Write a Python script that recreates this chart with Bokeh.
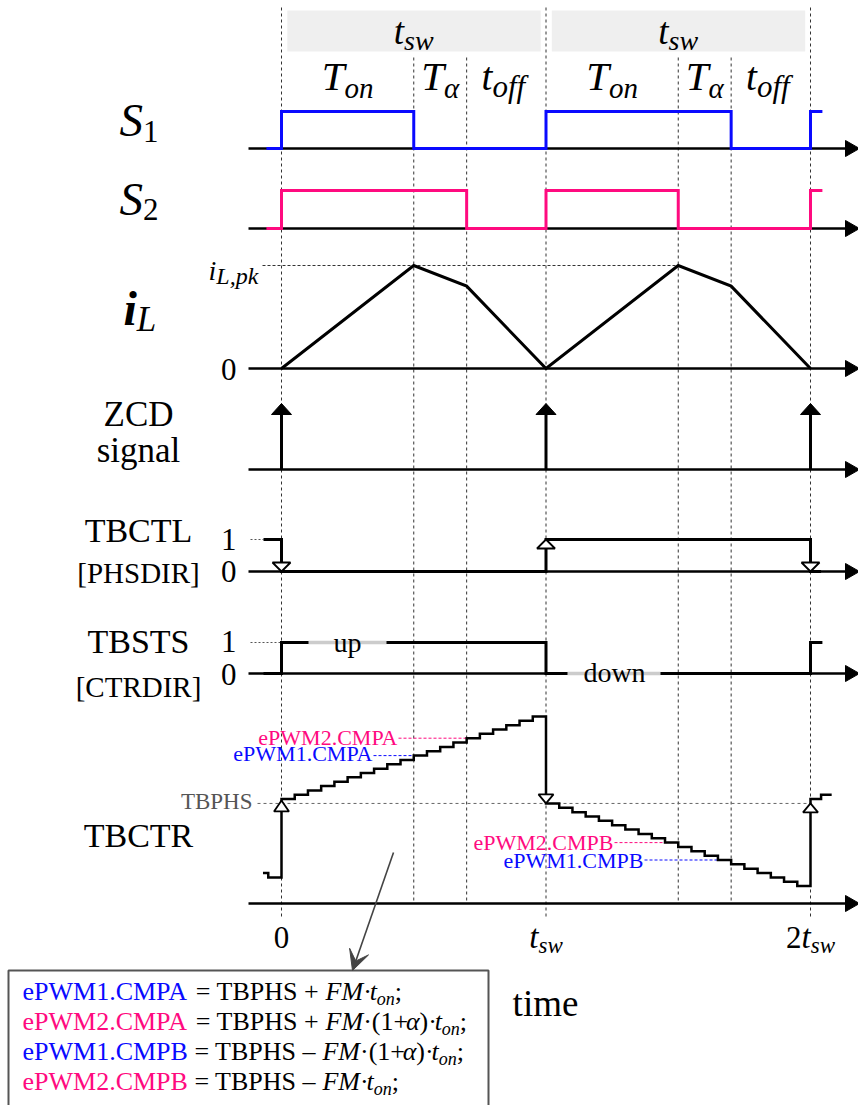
from bokeh.plotting import figure
from bokeh.models import Range1d, Arrow, VeeHead
from bokeh.core.properties import value
from bokeh.embed import file_html
from bokeh.resources import INLINE

# ---------------- data (time in units of t_sw) ----------------
period_starts = [0.0, 1.0, 2.0]            # 0, t_sw, 2 t_sw
phase_edges = [0.5, 0.7, 1.5, 1.7]         # end of T_on, end of T_alpha
on_mid = [0.25, 1.25]
alpha_mid = [0.6, 1.6]
off_mid = [0.85, 1.85]

s1_t = [-0.057, 0.0, 0.5, 1.0, 1.7, 2.0, 2.045]
s1_v = [0, 1, 0, 1, 0, 1, 1]
s2_t = [-0.057, 0.0, 0.7, 1.0, 1.5, 2.0, 2.045]
s2_v = [0, 1, 0, 1, 0, 1, 1]

il_t = [0.0, 0.5, 0.7, 1.0, 1.5, 1.7, 2.0]
il_v = [0.0, 1.0, 0.8, 0.0, 1.0, 0.8, 0.0]   # normalised to i_L,pk

zcd_t = [0.0, 1.0, 2.0]

phsdir_t = [-0.068, 0.0, 1.0, 2.0, 2.04]
phsdir_v = [1, 0, 1, 0, 0]
ctrdir_t = [-0.068, 0.0, 1.0, 2.0, 2.045]
ctrdir_v = [0, 1, 0, 1, 1]

tbctr_t = [-0.07, -0.05,
           0.00, 0.05, 0.10, 0.15, 0.20, 0.25, 0.30, 0.35, 0.40, 0.45,
           0.50, 0.55, 0.60, 0.65, 0.70, 0.75, 0.80, 0.85, 0.90, 0.95,
           1.00, 1.05, 1.10, 1.15, 1.20, 1.25, 1.30, 1.35, 1.40, 1.45,
           1.50, 1.55, 1.60, 1.65, 1.70, 1.75, 1.80, 1.85, 1.90, 1.95,
           2.00, 2.04, 2.08]
tbctr_v = [7, 6,
           24, 25, 26, 27, 28, 29, 30, 31, 32, 33,
           34, 35, 36, 37, 38, 39, 40, 41, 42, 43,
           23, 22, 21, 20, 19, 18, 17, 16, 15, 14,
           13, 12, 11, 10, 9, 8, 7, 6, 5, 4,
           24, 25, 25]
tbphs = 23
cmp_names = ["ePWM2.CMPA", "ePWM1.CMPA", "ePWM2.CMPB", "ePWM1.CMPB"]
cmp_values = [38, 34, 14, 10]
cmp_times = [0.7, 0.5, 1.5, 1.7]

# ---------------- style / layout ----------------
FONT = "Liberation Serif"
BLUE = "#0a0aff"
PINK = "#ff0a7f"
cmp_colors = [PINK, BLUE, PINK, BLUE]
W, H = 858, 1105
T0, TSW = 281.0, 264.5          # pixel of t=0 and pixels per t_sw
BASE_FIX = 0.36                  # baseline correction (fraction of font size)


def px_of_t(t):
    return T0 + t * TSW


def t_of_px(x):
    return (x - T0) / TSW


ROWS = {"s1": (148, 37), "s2": (228, 38), "il": (368, 103), "zcd": (469, 66),
        "phs": (571, 32), "ctr": (673, 31), "tbctr": (903, 4.35)}


def ypx(row, v):
    base, unit = ROWS[row]
    return base - v * unit


p = figure(width=W, height=H, x_range=Range1d(t_of_px(0), t_of_px(W)),
           y_range=Range1d(H, 0), x_axis_type=None, y_axis_type=None,
           toolbar_location=None, output_backend="svg", min_border=0,
           outline_line_color=None, background_fill_color="white",
           border_fill_color="white")
p.extra_x_ranges = {"px": Range1d(0, W)}
p.extra_y_ranges = {k: Range1d((b - H) / u, b / u) for k, (b, u) in ROWS.items()}

REG = {' ': .25, '(': .333, ')': .333, '+': .564, ',': .25, '.': .25, ';': .278, '=': .564,
       '[': .333, ']': .333, '·': .25, '–': .5, 'A': .722, 'B': .667, 'C': .667, 'D': .722,
       'H': .722, 'I': .333, 'L': .611, 'M': .889, 'P': .556, 'R': .667, 'S': .556, 'T': .611,
       'W': .944, 'Z': .611, 'a': .444, 'd': .5, 'e': .444, 'g': .5, 'i': .278, 'l': .278,
       'm': .778, 'n': .5, 'o': .5, 'p': .5, 's': .389, 't': .278, 'u': .5, 'w': .722}
ITA = {'F': .611, 'M': .833, 'S': .5, 'T': .556, 'L': .556, 'i': .278, 'k': .444, 'p': .5,
       's': .389, 'w': .667, 't': .278, 'o': .5, 'n': .5, 'f': .278, ',': .25, 'α': .52}


def tw(s, size, style):
    tab = ITA if "italic" in style else REG
    return sum(tab.get(c, 0.5) for c in s) * size


def put(x, y, s, size, style="normal", color="black", align="left"):
    p.text(x=[x], y=[y - BASE_FIX * size], text=[s], x_range_name="px", text_font=value(FONT),
           text_font_size=value(f"{size}px"), text_font_style=style, text_color=color,
           text_align=align, text_baseline="alphabetic")


def rich(x, y, pieces, align="left"):
    total = sum(tw(s, sz, st) for s, sz, st, c, dy in pieces)
    if align == "center":
        x -= total / 2
    for s, sz, st, c, dy in pieces:
        lead = len(s) - len(s.lstrip(" "))
        core = s.strip(" ")
        if core:
            put(x + lead * tw(" ", sz, "normal"), y + dy, core, sz, st, c)
        x += tw(s, sz, st)


# ---------------- guides ----------------
p.quad(left=[a + 0.022 for a in period_starts[:2]], right=[b - 0.02 for b in period_starts[1:]],
       top=[10, 10], bottom=[51, 51], fill_color="#efefef", line_color=None)
p.segment(x0=period_starts, x1=period_starts, y0=[7] * 3, y1=[918] * 3,
          line_color="#333333", line_width=1, line_dash="3 3")
p.segment(x0=phase_edges, x1=phase_edges, y0=[57] * 4, y1=[903] * 4,
          line_color="#333333", line_width=1, line_dash="3 3")

# axes with arrowheads
bases = [b for b, u in ROWS.values()]
p.segment(x0=[248] * len(bases), x1=[848] * len(bases), y0=bases, y1=bases,
          x_range_name="px", line_color="black", line_width=2.5)
p.patches(xs=[[845, 859, 845]] * len(bases), ys=[[b - 8, b, b + 8] for b in bases],
          x_range_name="px", fill_color="black", line_color="black")

# dashed leaders
p.segment(x0=[t_of_px(262)], x1=[1.5], y0=[1], y1=[1], y_range_name="il",
          line_color="#333333", line_width=1, line_dash="3 2")
p.segment(x0=[t_of_px(250)], x1=[phsdir_t[0]], y0=[1], y1=[1], y_range_name="phs",
          line_color="#555555", line_width=1, line_dash="2 2")
p.segment(x0=[t_of_px(250)], x1=[0.0], y0=[1], y1=[1], y_range_name="ctr",
          line_color="#555555", line_width=1, line_dash="2 2")
p.segment(x0=[t_of_px(257)], x1=[2.0], y0=[tbphs], y1=[tbphs], y_range_name="tbctr",
          line_color="#666666", line_width=1, line_dash="3 3")

label_end_px = [398, 373, 614, 644]
p.segment(x0=[t_of_px(x) for x in label_end_px], x1=cmp_times, y0=cmp_values, y1=cmp_values,
          y_range_name="tbctr", line_color=cmp_colors, line_width=1, line_dash="3 2")

# ---------------- signals ----------------
p.step(x=s1_t, y=s1_v, mode="after", y_range_name="s1", line_color=BLUE, line_width=3,
       line_join="miter")
p.step(x=s2_t, y=s2_v, mode="after", y_range_name="s2", line_color=PINK, line_width=3,
       line_join="miter")
p.line(x=il_t, y=il_v, y_range_name="il", line_color="black", line_width=3, line_join="miter")

HEAD = 11
p.segment(x0=zcd_t, x1=zcd_t, y0=[0] * 3, y1=[1 - HEAD / ROWS["zcd"][1]] * 3,
          y_range_name="zcd", line_color="black", line_width=3)
zt = ypx("zcd", 1)
p.patches(xs=[[t - 10 / TSW, t + 10 / TSW, t] for t in zcd_t],
          ys=[[zt + HEAD, zt + HEAD, zt] for t in zcd_t], fill_color="black", line_color="black")

p.step(x=phsdir_t, y=phsdir_v, mode="after", y_range_name="phs", line_color="black",
       line_width=3, line_join="miter")
# CTRDIR with gray gaps for the labels
p.step(x=ctrdir_t, y=ctrdir_v, mode="after", y_range_name="ctr", line_color="black",
       line_width=3, line_join="miter")
p.segment(x0=[t_of_px(308), t_of_px(567)], x1=[t_of_px(386), t_of_px(660)], y0=[1, 0], y1=[1, 0],
          y_range_name="ctr", line_color="#cccccc", line_width=3.5)

p.step(x=tbctr_t, y=tbctr_v, mode="after", y_range_name="tbctr", line_color="black",
       line_width=2.5, line_join="miter")

# open triangles (phase load / direction markers)
txs, tys = [], []


def tri(t, tip, base, hw):
    txs.append([t - hw / TSW, t + hw / TSW, t])
    tys.append([base, base, tip])


lo, hi = ypx("phs", 0), ypx("phs", 1)
tri(0.0, lo, lo - 9, 9)
tri(1.0, hi, hi + 9, 9)
tri(2.0, lo, lo - 9, 9)
ph = ypx("tbctr", tbphs)
tri(0.0, ph - 3, ph + 8, 7.5)
tri(1.0, ph, ph - 9, 7.5)
tri(2.0, ph, ph + 9, 7.5)
p.patches(xs=txs, ys=tys, fill_color="white", line_color="black", line_width=1.8)

# formula box and pointer
p.quad(left=[8], right=[488], top=[970], bottom=[1112], x_range_name="px",
       fill_color="white", line_color="#555555", line_width=2)
p.add_layout(Arrow(end=VeeHead(size=20, fill_color="#444444", line_color="#444444"),
                   x_start=393, y_start=852, x_end=352, y_end=970, x_range_name="px",
                   line_color="#444444", line_width=1.6))

# ---------------- texts ----------------
for a in period_starts[:2]:
    rich(px_of_t(a + 0.5), 44, [("t", 37, "italic", "black", 0), ("sw", 28, "italic", "black", 6)], "center")
for m in on_mid:
    rich(px_of_t(m), 90, [("T", 41, "italic", "black", 0), ("on", 29, "italic", "black", 8)], "center")
for m in alpha_mid:
    rich(px_of_t(m), 90, [("T", 41, "italic", "black", 0), ("α", 29, "italic", "black", 8)], "center")
for m in off_mid:
    rich(px_of_t(m) - 3, 90, [("t", 39, "italic", "black", 0), ("off", 31, "italic", "black", 7)], "center")

rich(119, 136, [("S", 47, "italic", "black", 0), ("1", 31, "normal", "black", 6)])
rich(119, 215, [("S", 47, "italic", "black", 0), ("2", 31, "normal", "black", 5)])
rich(123, 325, [("i", 48, "bold italic", "black", 0), ("L", 35, "italic", "black", 7)])
rich(208, 280, [("i", 28, "italic", "black", 0), ("L,pk", 24, "italic", "black", 4)])

for s, y, sz in [("ZCD", 427, 35), ("signal", 463, 35), ("TBCTL", 542, 34), ("[PHSDIR]", 583, 29),
                 ("TBSTS", 653, 34), ("[CTRDIR]", 697, 29), ("TBCTR", 847, 34)]:
    put(138, y, s, sz, align="center")
for s, y in [("0", 380), ("1", 550), ("0", 582), ("1", 652), ("0", 685)]:
    put(236, y, s, 31, align="right")

put(347, 652, "up", 28, align="center")
put(614, 682, "down", 28, align="center")
put(252, 809, "TBPHS", 23, color="#555555", align="right")
for name, col, xe, yb in zip(cmp_names, cmp_colors, label_end_px, [745, 761, 850, 868]):
    put(xe - 1, yb, name, 22, color=col, align="right")

put(px_of_t(0), 948, "0", 31, align="center")
rich(px_of_t(1), 948, [("t", 33, "italic", "black", 0), ("sw", 23, "italic", "black", 5)], "center")
rich(px_of_t(2), 948, [("2", 31, "normal", "black", 0), ("t", 33, "italic", "black", 0),
                       ("sw", 23, "italic", "black", 5)], "center")
put(545, 1016, "time", 37, align="center")

formula_lines = [
    [("ePWM1.CMPA", BLUE), " = TBPHS + ", ("FM", "i"), "·", ("t", "i"), ("on", "s"), ";"],
    [("ePWM2.CMPA", PINK), " = TBPHS + ", ("FM", "i"), "·(1+", ("α", "i"), ")·", ("t", "i"), ("on", "s"), ";"],
    [("ePWM1.CMPB", BLUE), " = TBPHS – ", ("FM", "i"), "·(1+", ("α", "i"), ")·", ("t", "i"), ("on", "s"), ";"],
    [("ePWM2.CMPB", PINK), " = TBPHS – ", ("FM", "i"), "·", ("t", "i"), ("on", "s"), ";"],
]
for line, yb in zip(formula_lines, [1000, 1030, 1060, 1090]):
    pieces = []
    for item in line:
        if isinstance(item, str):
            pieces.append((item, 26, "normal", "black", 0))
        elif item[1] == "i":
            pieces.append((item[0], 26, "italic", "black", 0))
        elif item[1] == "s":
            pieces.append((item[0], 18, "italic", "black", 5))
        else:
            pieces.append((item[0], 26, "normal", item[1], 0))
    rich(22, yb, pieces)

open("out.html", "w").write(file_html(p, INLINE))
